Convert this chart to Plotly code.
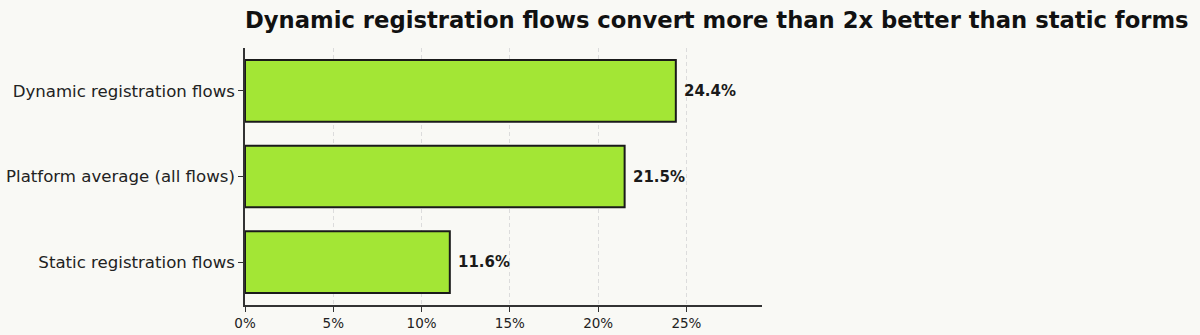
import plotly.graph_objects as go

categories = ["Static registration flows", "Platform average (all flows)", "Dynamic registration flows"]
values = [11.6, 21.5, 24.4]
labels = ["11.6%", "21.5%", "24.4%"]
tick_vals = [0, 5, 10, 15, 20, 25]
tick_text = ["0%", "5%", "10%", "15%", "20%", "25%"]

BG = "#f9f9f5"
FONT = "DejaVu Sans"

fig = go.Figure()
fig.add_trace(go.Bar(
    y=categories, x=values, orientation="h",
    width=0.72,
    marker=dict(color="#a3e635", line=dict(color="#1a1a1a", width=2)),
    hoverinfo="skip",
))

for c, v, t in zip(categories, values, labels):
    fig.add_annotation(
        x=v, y=c, text=f"<b>{t}</b>", showarrow=False,
        xanchor="left", yanchor="middle", xshift=6,
        font=dict(family=FONT, size=15, color="#1a1a1a"),
    )

fig.update_layout(
    width=1200, height=335,
    paper_bgcolor=BG, plot_bgcolor=BG,
    margin=dict(l=245, r=438, t=48, b=30, autoexpand=False),
    showlegend=False,
    font=dict(family=FONT, color="#222"),
    title=dict(
        text="<b>Dynamic registration flows convert more than 2x better than static forms</b>",
        x=245/1200, xanchor="left", xref="container",
        y=1 - 20/335, yanchor="middle", yref="container",
        font=dict(family=FONT, size=22.7, color="#111"),
    ),
    xaxis=dict(
        range=[0, 29.28], tickvals=tick_vals, ticktext=tick_text,
        showgrid=True, gridcolor="#dcdcdc", griddash="4px,3px", gridwidth=1,
        zeroline=False, showline=True, linecolor="#333", linewidth=1.5,
        ticks="outside", ticklen=5, tickcolor="#333",
        tickfont=dict(family=FONT, size=13.5, color="#222"),
        automargin=False,
    ),
    yaxis=dict(
        range=[-0.5, 2.5], categoryorder="array", categoryarray=categories,
        showgrid=False, zeroline=False, showline=True, linecolor="#333", linewidth=1.5,
        ticks="outside", ticklen=5, tickcolor="#333",
        tickfont=dict(family=FONT, size=16.6, color="#222"),
        automargin=False,
    ),
)

fig.write_html("out.html")
